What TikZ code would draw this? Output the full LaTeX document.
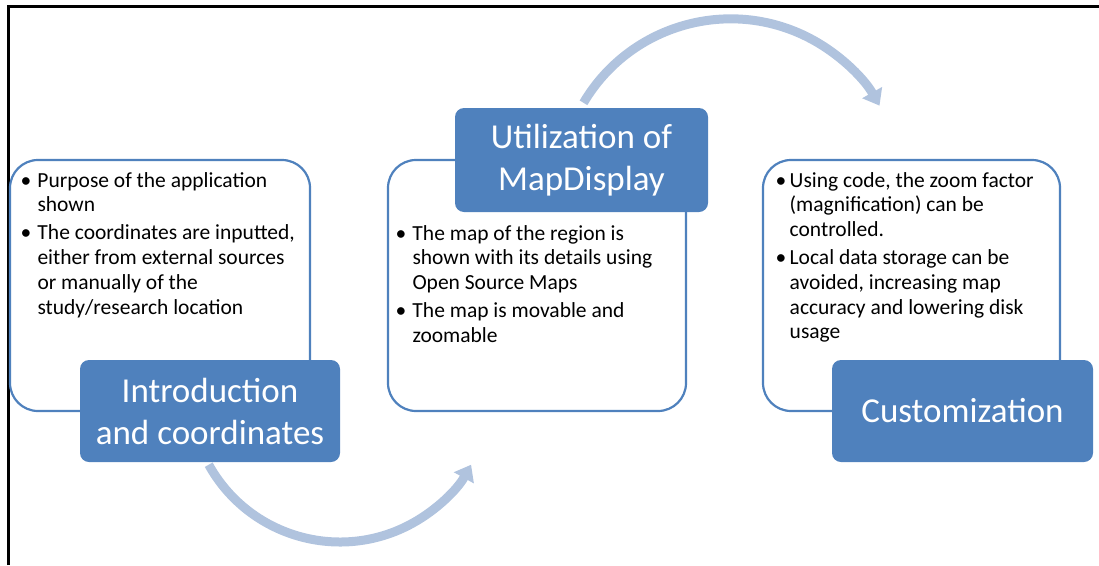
\documentclass[tikz,border=0pt]{standalone}
\usepackage{fontspec}
\setmainfont{Carlito}
\usetikzlibrary{arrows.meta}
\definecolor{accent}{HTML}{4F81BD}
\definecolor{arrowc}{HTML}{B0C3DE}
\newcommand{\bul}[1]{\makebox[#1][l]{\textbullet}}
\begin{document}
\begin{tikzpicture}[x=1pt,y=-1pt,
  frame/.style={line width=3pt,black},
  wbox/.style={draw=accent,line width=2.2pt,fill=white,rounded corners=28pt,inner sep=0pt},
  bbox/.style={fill=accent,draw=none,rounded corners=9pt,inner sep=0pt,text=white,align=center,
    font=\fontsize{35}{42}\selectfont},
  body/.style={anchor=base west,inner sep=0pt,text=black,font=\fontsize{21.5}{24.7}\selectfont},
  bigarrow/.style={draw=arrowc,line width=9pt,-{Triangle[width=22pt,length=15pt]}}]
\useasboundingbox (0,0) rectangle (1099,565);
% frame
\coordinate (f1) at (8,565);
\coordinate (f2) at (8,6);
\coordinate (f3) at (1099,6);
\draw[frame] (f1) -- (f2) -- (f3);
% curved arrows
\coordinate (ta) at (583.5,102.8);
\draw[bigarrow] (ta) arc[start angle=210.6,end angle=330.5,radius=171];
\coordinate (ba) at (208.7,464.7);
\draw[bigarrow] (ba) arc[start angle=151,end angle=29,radius=150];
% white boxes
\node[wbox,minimum width=300pt,minimum height=251pt] (w1) at (160,285.5) {};
\node[wbox,minimum width=298pt,minimum height=251pt] (w2) at (537,285.5) {};
\node[wbox,minimum width=297pt,minimum height=251pt] (w3) at (911.5,285.5) {};
% blue boxes
\node[bbox,minimum width=260pt,minimum height=102pt] (b1) at (210,411) {Introduction\\and coordinates};
\node[bbox,minimum width=253pt,minimum height=104pt] (b2) at (581.5,160) {Utilization of\\MapDisplay};
\node[bbox,minimum width=261pt,minimum height=102pt] (b3) at (962.5,411) {Customization};
% body text
\node[body] (t1) at (20.5,187) {\begin{tabular}[t]{@{}l@{}}
\bul{16.8pt}Purpose of the application\\
\hspace*{16.8pt}shown\\[3.5pt]
\bul{16.8pt}The coordinates are inputted,\\
\hspace*{16.8pt}either from external sources\\
\hspace*{16.8pt}or manually of the\\
\hspace*{16.8pt}study/research location
\end{tabular}};
\node[body] (t2) at (395.5,240) {\begin{tabular}[t]{@{}l@{}}
\bul{16.8pt}The map of the region is\\
\hspace*{16.8pt}shown with its details using\\
\hspace*{16.8pt}Open Source Maps\\[3.5pt]
\bul{16.8pt}The map is movable and\\
\hspace*{16.8pt}zoomable
\end{tabular}};
\node[body] (t3) at (775.5,187) {\begin{tabular}[t]{@{}l@{}}
\bul{14pt}Using code, the zoom factor\\
\hspace*{14pt}(magnification) can be\\
\hspace*{14pt}controlled.\\[3.5pt]
\bul{14pt}Local data storage can be\\
\hspace*{14pt}avoided, increasing map\\
\hspace*{14pt}accuracy and lowering disk\\
\hspace*{14pt}usage
\end{tabular}};
\end{tikzpicture}
\end{document}
